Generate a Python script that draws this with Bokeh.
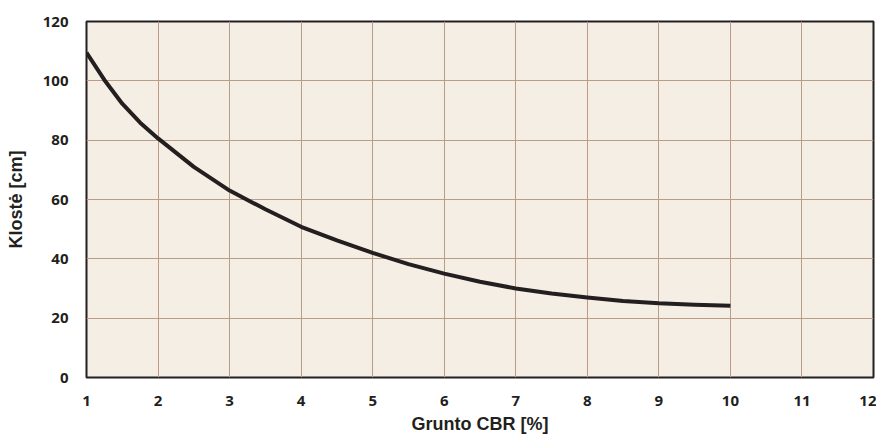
from bokeh.plotting import figure
from bokeh.models import Range1d, FixedTicker
from bokeh.embed import file_html
from bokeh.resources import INLINE

cbr = [1, 1.25, 1.5, 1.75, 2, 2.5, 3, 3.5, 4, 4.5, 5, 5.5, 6, 6.5, 7, 7.5, 8, 8.5, 9, 9.5, 10]
thickness = [109.5, 100.3, 92.3, 85.9, 80.6, 71, 63, 56.7, 50.8, 46.2, 42, 38.2, 35, 32.3, 30,
             28.3, 27, 25.8, 25, 24.5, 24.2]
x_ticks = [1, 2, 3, 4, 5, 6, 7, 8, 9, 10, 11, 12]
y_ticks = [0, 20, 40, 60, 80, 100, 120]

p = figure(width=876, height=436, output_backend="svg", toolbar_location=None,
           x_range=Range1d(1, 12), y_range=Range1d(0, 120),
           min_border_left=86, min_border_right=3, min_border_top=21, min_border_bottom=58)

p.background_fill_color = "#f5eee4"
p.border_fill_color = "white"
p.outline_line_color = "#231f20"
p.outline_line_width = 2

p.xaxis.ticker = FixedTicker(ticks=x_ticks)
p.yaxis.ticker = FixedTicker(ticks=y_ticks)
p.xgrid.ticker = FixedTicker(ticks=x_ticks)
p.ygrid.ticker = FixedTicker(ticks=y_ticks)
p.grid.grid_line_color = "#bb9c86"
p.grid.grid_line_width = 1

for ax in (p.xaxis, p.yaxis):
    ax.axis_line_color = None
    ax.major_tick_line_color = None
    ax.minor_tick_line_color = None
    ax.major_label_text_font = "Open Sans"
    ax.major_label_text_font_style = "bold"
    ax.major_label_text_font_size = "15px"
    ax.major_label_text_color = "#231f20"
    ax.axis_label_text_font = "Liberation Sans"
    ax.axis_label_text_font_style = "bold"
    ax.axis_label_text_font_size = "18px"
    ax.axis_label_text_color = "#231f20"

p.xaxis.axis_label = "Grunto CBR [%]"
p.yaxis.axis_label = "Klostė [cm]"
p.xaxis.major_label_standoff = 12
p.yaxis.major_label_standoff = 12
p.xaxis.axis_label_standoff = 5
p.yaxis.axis_label_standoff = 14

p.line(cbr, thickness, line_color="#231f20", line_width=4, line_join="round")

open("out.html", "w").write(file_html(p, INLINE))
